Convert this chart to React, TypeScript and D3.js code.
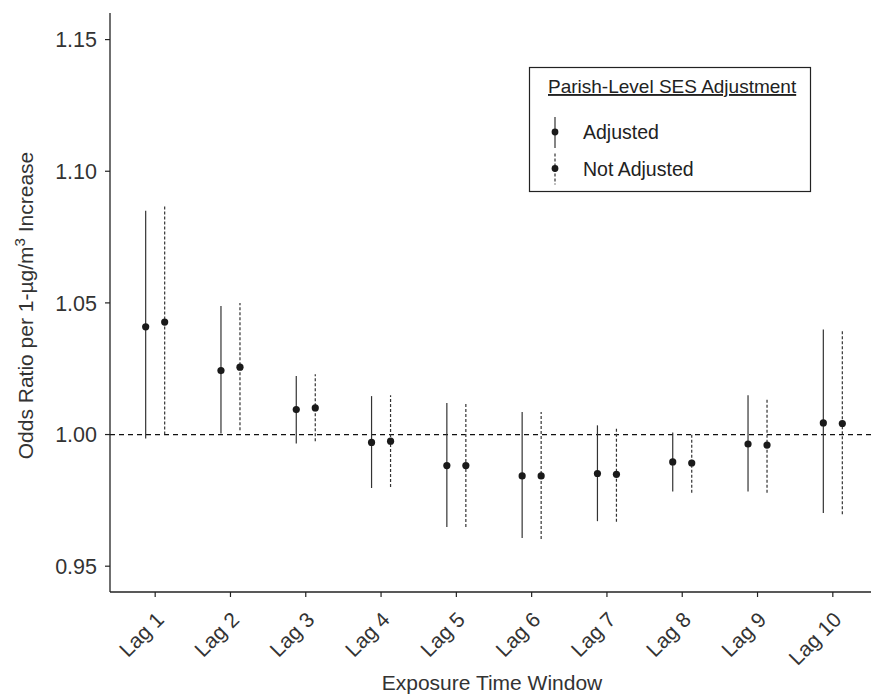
import React from "react";
import * as d3 from "d3";

const lags = ["Lag 1", "Lag 2", "Lag 3", "Lag 4", "Lag 5", "Lag 6", "Lag 7", "Lag 8", "Lag 9", "Lag 10"];
const seriesNames = ["Adjusted", "Not Adjusted"];

const adjustedOR = [1.0409, 1.0243, 1.0095, 0.997, 0.9882, 0.9843, 0.9852, 0.9896, 0.9964, 1.0044];
const adjustedLow = [0.9985, 1.0004, 0.9966, 0.9797, 0.9649, 0.9607, 0.9671, 0.9784, 0.9784, 0.9702];
const adjustedHigh = [1.085, 1.0488, 1.0222, 1.0146, 1.012, 1.0086, 1.0035, 1.0008, 1.0149, 1.0399];

const notAdjustedOR = [1.0427, 1.0256, 1.0101, 0.9975, 0.9882, 0.9843, 0.9849, 0.9892, 0.996, 1.0042];
const notAdjustedLow = [1.0, 1.0016, 0.9975, 0.9801, 0.9649, 0.9603, 0.9669, 0.9779, 0.9779, 0.9697];
const notAdjustedHigh = [1.0869, 1.05, 1.0229, 1.0149, 1.0124, 1.0086, 1.0027, 1.0, 1.0137, 1.04];

const yTicks = [0.95, 1.0, 1.05, 1.1, 1.15];

const W = 871;
const H = 694;
const FONT = "'Liberation Sans', Arial, sans-serif";
const INK = "#222";

export default function App() {
  const left = 110;
  const top = 13;
  const bottom = 592;

  const x = d3.scalePoint().domain(lags).range([left, 878]).padding(0.6);
  const dodge = d3.scaleBand().domain(seriesNames).range([-19, 19]);
  const y = d3.scaleLinear().domain([0.9402, 1.1601]).range([bottom, top]);
  const fmt = d3.format(".2f");

  const series = [
    { name: "Adjusted", or: adjustedOR, lo: adjustedLow, hi: adjustedHigh, dash: null },
    { name: "Not Adjusted", or: notAdjustedOR, lo: notAdjustedLow, hi: notAdjustedHigh, dash: "3,2" },
  ];

  const lx = 555;

  return (
    <svg width={W} height={H} style={{ position: "absolute", left: 0, top: 0, background: "#fff" }} fontFamily={FONT}>
      {/* reference line */}
      <line x1={left} x2={W} y1={y(1)} y2={y(1)} stroke="#111" strokeWidth={1.3} strokeDasharray="5,4" />

      {/* error bars and points */}
      {series.map((s) => (
        <g key={s.name}>
          {lags.map((l, i) => {
            const cx = (x(l) as number) + (dodge(s.name) as number) + dodge.bandwidth() / 2;
            return (
              <g key={l}>
                <line x1={cx} x2={cx} y1={y(s.lo[i])} y2={y(s.hi[i])} stroke="#333" strokeWidth={1.2} strokeDasharray={s.dash || undefined} />
                <circle cx={cx} cy={y(s.or[i])} r={3.6} fill="#1a1a1a" />
              </g>
            );
          })}
        </g>
      ))}

      {/* axes */}
      <line x1={left} x2={left} y1={top} y2={bottom} stroke={INK} strokeWidth={1.3} />
      <line x1={left} x2={W} y1={bottom} y2={bottom} stroke={INK} strokeWidth={1.3} />
      {yTicks.map((t) => (
        <g key={t}>
          <line x1={left - 5} x2={left} y1={y(t)} y2={y(t)} stroke={INK} strokeWidth={1.2} />
          <text x={left - 13} y={y(t)} dy="0.36em" textAnchor="end" fontSize={21.5} fill="#333">
            {fmt(t)}
          </text>
        </g>
      ))}
      {lags.map((l) => (
        <g key={l}>
          <line x1={x(l)} x2={x(l)} y1={bottom} y2={bottom + 5} stroke={INK} strokeWidth={1.2} />
          <text
            transform={`translate(${(x(l) as number) + 10},${bottom + 29}) rotate(-45)`}
            textAnchor="end"
            fontSize={21}
            fill="#333"
          >
            {l}
          </text>
        </g>
      ))}

      {/* axis titles */}
      <text x={492} y={690} textAnchor="middle" fontSize={21} fill="#333">
        Exposure Time Window
      </text>
      <text transform={`translate(33,${(top + bottom) / 2 + 3}) rotate(-90)`} textAnchor="middle" fontSize={21} fill="#333">
        Odds Ratio per 1-µg/m<tspan dy="-8" fontSize={15}>3</tspan>
        <tspan dy="8"> Increase</tspan>
      </text>

      {/* legend */}
      <rect x={529.5} y={67.5} width={281} height={124} fill="#fff" stroke={INK} strokeWidth={1.2} />
      <text x={548} y={93} fontSize={19} fill="#222" textDecoration="underline">
        Parish-Level SES Adjustment
      </text>
      {series.map((s, i) => {
        const cy = 132 + i * 36.5;
        return (
          <g key={s.name}>
            <line x1={lx} x2={lx} y1={cy - 15} y2={cy + 16} stroke="#333" strokeWidth={1.2} strokeDasharray={s.dash || undefined} />
            <circle cx={lx} cy={cy} r={3.4} fill="#1a1a1a" />
            <text x={583} y={cy} dy="0.36em" fontSize={19.5} fill="#222">
              {s.name}
            </text>
          </g>
        );
      })}
    </svg>
  );
}
